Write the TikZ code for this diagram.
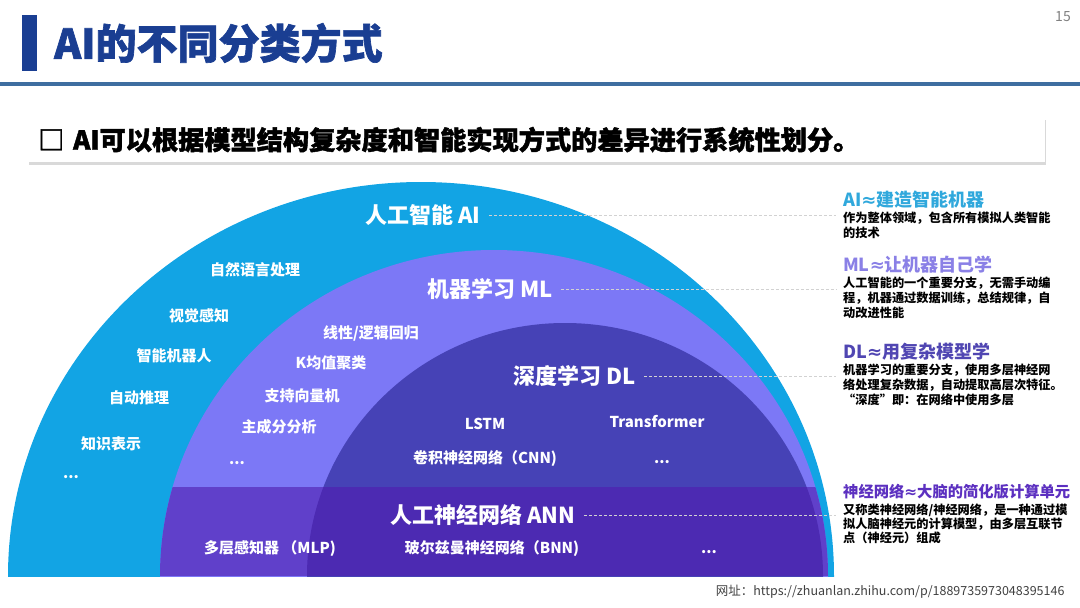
\documentclass[tikz,border=0pt]{standalone}
\usepackage{fontspec}
\setmainfont{Noto Sans CJK SC}
\newfontfamily\heavyfont{Noto Sans CJK SC}[BoldFeatures={FakeBold=1.6}]
\newfontfamily\symfont{DejaVu Sans}
\usepackage{tikz}
\usetikzlibrary{positioning,shadows}
\usepackage{xcolor}
\definecolor{aiblue}{RGB}{18,164,228}
\definecolor{mlviolet}{RGB}{124,120,246}
\definecolor{dlindigo}{RGB}{70,66,182}
\definecolor{annviolet}{RGB}{96,64,202}
\definecolor{anndeep}{RGB}{76,42,178}
\definecolor{titleblue}{RGB}{26,62,146}
\definecolor{rulecol}{RGB}{62,110,160}
\definecolor{aihd}{RGB}{48,168,220}
\definecolor{mlhd}{RGB}{138,128,230}
\definecolor{dlhd}{RGB}{80,70,178}
\definecolor{nnhd}{RGB}{92,48,192}
\newcommand{\apx}{{\symfont\bfseries ≈}}

\begin{document}
\begin{tikzpicture}[x=1pt, y=-1pt, node distance=4pt,
    lbl/.style={text=white, inner sep=0pt, font=\bfseries\fontsize{15}{17}\selectfont},
    biglbl/.style={text=white, inner sep=0pt, font=\bfseries\fontsize{22}{24}\selectfont},
    head/.style={anchor=west, inner sep=0pt, font=\bfseries\fontsize{18}{20}\selectfont},
    desc/.style={align=left, inner sep=0pt, font=\bfseries\fontsize{12.2}{15}\selectfont},
    subbox/.style={fill=white, drop shadow={opacity=0.3, shadow xshift=1pt, shadow yshift=-3pt}, font=\heavyfont\bfseries\fontsize{26.2}{28}\selectfont},
    guide/.style={draw=gray!35, dash pattern=on 3pt off 2pt, line width=0.8pt, shorten <=8pt}]
    \useasboundingbox (0,0) rectangle (1080,608);

    % title and rule
    \fill[titleblue] (22,15) rectangle (37,71);
    \node[anchor=west, inner sep=0pt, text=titleblue, font=\heavyfont\bfseries\fontsize{41}{45}\selectfont] (title) at (54,43) {AI的不同分类方式};
    \node[text=gray, font=\fontsize{14}{16}\selectfont] (pgnum) at (1063,17) {15};
    \draw[rulecol, line width=4pt, line cap=round] (0,84) -- (1080,84);
    \node[subbox, anchor=north west, minimum width=1017pt, minimum height=45pt, text width=997pt, inner xsep=10pt, align=left] (sub) at (28,117) {□ AI可以根据模型结构复杂度和智能实现方式的差异进行系统性划分。};

    % nested half discs
    \begin{scope}
        \clip (0,0) rectangle (1080,576);
        \fill[aiblue] (421,576) ellipse [x radius=413, y radius=394];
        \fill[mlviolet] (494,576) ellipse [x radius=334, y radius=326];
        \fill[dlindigo] (565,576) ellipse [x radius=258, y radius=253];
        \clip (494,576) ellipse [x radius=334, y radius=326];
        \fill[annviolet] (0,487) rectangle (1080,576);
        \clip (565,576) ellipse [x radius=258, y radius=253];
        \fill[anndeep] (0,487) rectangle (1080,576);
    \end{scope}

    % labels inside
    \node[biglbl] (ai) at (423,215) {人工智能 AI};
    \node[lbl] (nlp) at (255,270) {自然语言处理};
    \node[lbl] (cv) at (199,316) {视觉感知};
    \node[lbl] (robot) at (174,356) {智能机器人};
    \node[lbl] (reason) at (139,398) {自动推理};
    \node[lbl] (know) at (111,444) {知识表示};
    \node[lbl] (aimore) at (71,477) {...};
    \node[biglbl] (ml) at (490,289) {机器学习 ML};
    \node[lbl] (reg) at (371,333) {线性/逻辑回归};
    \node[lbl] (kmeans) at (331,363) {K均值聚类};
    \node[lbl] (svm) at (302,396) {支持向量机};
    \node[lbl] (pca) at (279,427) {主成分分析};
    \node[lbl] (mlmore) at (237,463) {...};
    \node[biglbl] (dl) at (575,376) {深度学习 DL};
    \node[lbl] (lstm) at (485,424) {LSTM};
    \node[lbl] (trans) at (657,422) {Transformer};
    \node[lbl] (cnn) at (485,459) {卷积神经网络（CNN)};
    \node[lbl] (dlmore) at (662,462) {...};
    \node[biglbl] (ann) at (483,515) {人工神经网络 ANN};
    \node[lbl] (mlp) at (270,549) {多层感知器 （MLP)};
    \node[lbl] (bnn) at (492,549) {玻尔兹曼神经网络（BNN)};
    \node[lbl] (annmore) at (709,552) {...};

    % right column
    \coordinate (rcol) at (836,0);
    \node[head, text=aihd] (aihead) at (843,200) {AI\apx 建造智能机器};
    \node[desc] (aidesc) [below=3pt of aihead.south west, anchor=north west] {作为整体领域，包含所有模拟人类智能\\的技术};
    \node[head, text=mlhd] (mlhead) at (843,265) {ML\apx 让机器自己学};
    \node[desc] (mldesc) [below=3pt of mlhead.south west, anchor=north west] {人工智能的一个重要分支，无需手动编\\程，机器通过数据训练，总结规律，自\\动改进性能};
    \node[head, text=dlhd] (dlhead) at (843,352) {DL\apx 用复杂模型学};
    \node[desc] (dldesc) [below=3pt of dlhead.south west, anchor=north west] {机器学习的重要分支，使用多层神经网\\络处理复杂数据，自动提取高层次特征。\\“深度”即：在网络中使用多层};
    \node[head, text=nnhd, font=\bfseries\fontsize{15.3}{17}\selectfont] (nnhead) at (843,492) {神经网络\apx 大脑的简化版计算单元};
    \node[desc, font=\bfseries\fontsize{12.2}{14}\selectfont] (nndesc) [below=of nnhead.south west, anchor=north west] {又称类神经网络/神经网络，是一种通过模\\拟人脑神经元的计算模型，由多层互联节\\点（神经元）组成};

    \draw[guide] (ai.east) -- (ai.east -| rcol);
    \draw[guide] (ml.east) -- (ml.east -| rcol);
    \draw[guide] (dl.east) -- (dl.east -| rcol);
    \draw[guide] (ann.east) -- (ann.east -| rcol);

    \node[anchor=east, text=black!75, font=\fontsize{12.5}{14}\selectfont] (url) at (1068,592) {网址：https://zhuanlan.zhihu.com/p/1889735973048395146};
\end{tikzpicture}
\end{document}
